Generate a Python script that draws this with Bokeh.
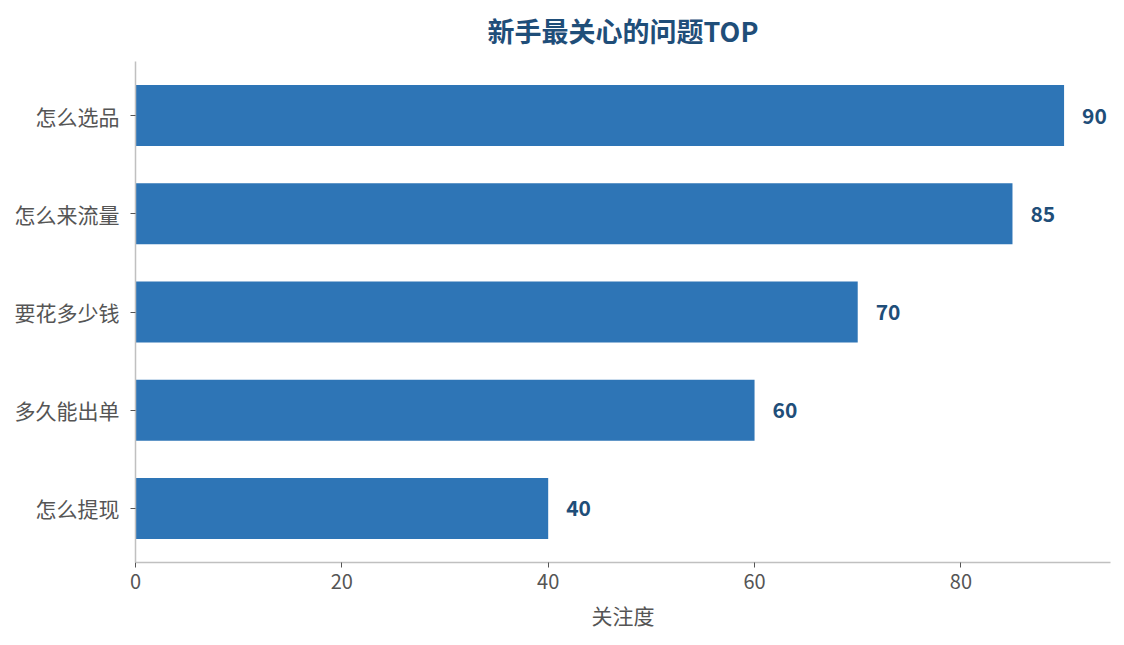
from bokeh.plotting import figure
from bokeh.models import ColumnDataSource, Range1d, FixedTicker
from bokeh.core.properties import value
from bokeh.embed import file_html
from bokeh.resources import INLINE

categories = ["怎么选品", "怎么来流量", "要花多少钱", "多久能出单", "怎么提现"]
scores = [90, 85, 70, 60, 40]
x_ticks = [0, 20, 40, 60, 80]
title_text = "新手最关心的问题TOP"
x_label = "关注度"

FONT = "Noto Sans CJK SC"
n = len(categories)
ypos = [n - 1 - i for i in range(n)]
src = ColumnDataSource(dict(y=ypos, v=scores, lab=[str(s) for s in scores]))

XMAX = 94.5
YTOP = n - 1 + 0.55
p = figure(width=1116, height=637, output_backend="svg", toolbar_location=None,
           x_range=Range1d(0, XMAX), y_range=Range1d(-0.55, YTOP),
           min_border_left=135, min_border_right=6, min_border_bottom=75, min_border_top=61)

p.hbar(y="y", right="v", left=0, height=0.62, source=src, color="#2e75b6", line_color=None)
p.text(x="v", y="y", text="lab", source=src, x_offset=18, text_align="left", text_baseline="middle",
       text_font=value(FONT), text_font_style="bold", text_font_size="21px", text_color="#1f4e79")

p.title.text = title_text
p.title.align = "center"
p.title.vertical_align = "top"
p.title.text_font = FONT
p.title.text_font_size = "27px"
p.title.text_font_style = "bold"
p.title.text_color = "#1f4e79"
p.title.standoff = 20
p.title.text_line_height = 0.1

p.grid.visible = False
p.outline_line_color = None

for ax in (p.xaxis[0], p.yaxis[0]):
    ax.axis_line_color = "#c0c0c0"
    ax.axis_line_width = 1.5
    ax.major_tick_line_color = "#555555"
    ax.major_tick_out = 5
    ax.major_tick_in = 0
    ax.minor_tick_line_color = None
    ax.major_label_text_font = FONT
    ax.major_label_text_font_size = "20px"
    ax.major_label_text_color = "#555555"

p.xaxis.ticker = FixedTicker(ticks=x_ticks)
p.xaxis.axis_label = x_label
p.xaxis.axis_label_text_font = FONT
p.xaxis.axis_label_text_font_size = "21px"
p.xaxis.axis_label_text_font_style = "normal"
p.xaxis.axis_label_text_color = "#555555"
p.xaxis.major_label_standoff = 6
p.xaxis.axis_label_standoff = 8

p.yaxis.ticker = FixedTicker(ticks=ypos)
p.yaxis.major_label_overrides = {y: c for y, c in zip(ypos, categories)}
p.yaxis.major_label_text_font_size = "21px"
p.yaxis.major_label_standoff = 11

open("out.html", "w").write(file_html(p, INLINE))
